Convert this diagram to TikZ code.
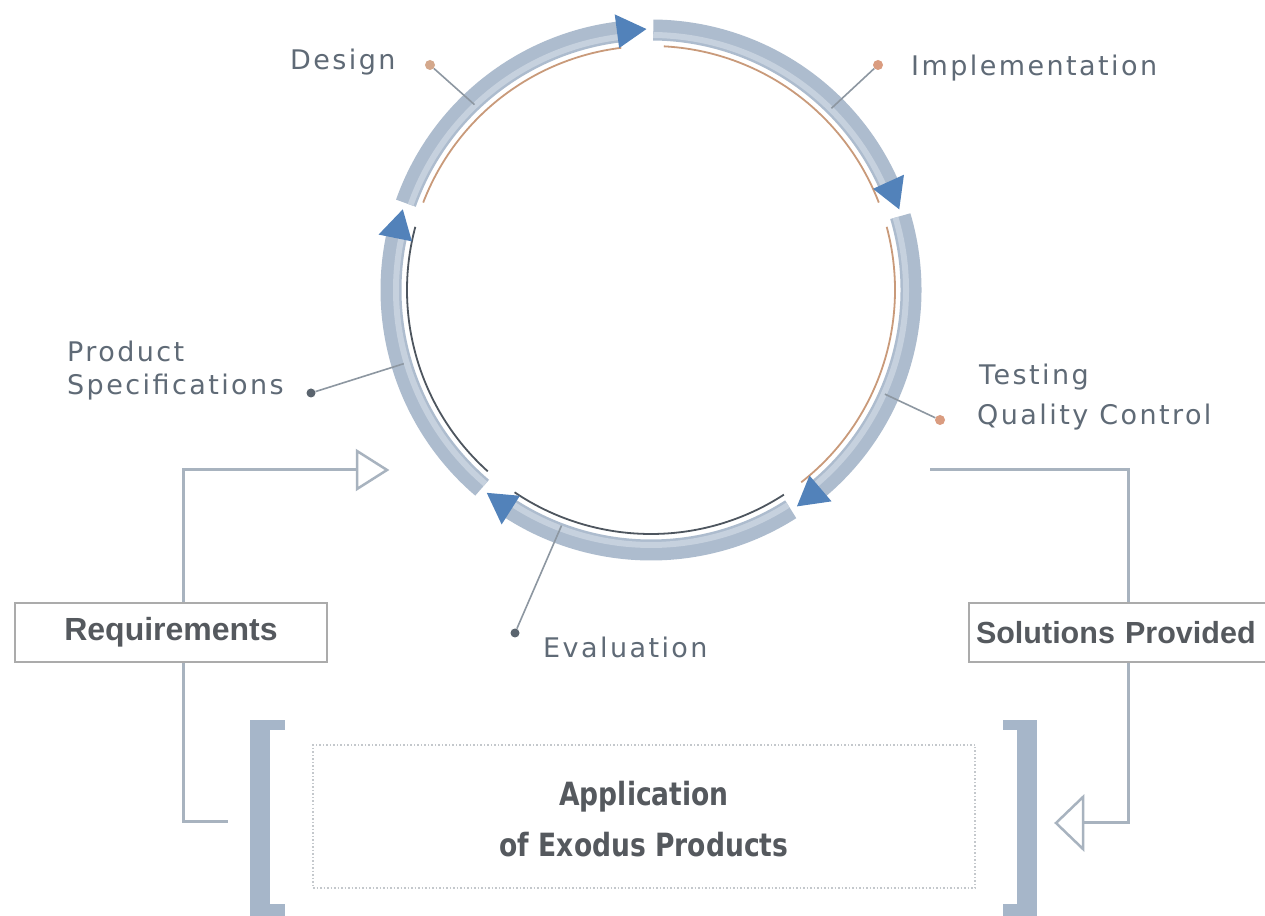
\documentclass[tikz,border=0pt]{standalone}
\usepackage{fontspec}
\setmainfont{DejaVu Sans}
\newfontfamily\lblfont[LetterSpace=9]{DejaVu Sans}
\newfontfamily\boxfont{Liberation Sans}
\usetikzlibrary{calc}
\definecolor{bandc}{HTML}{ADBCCE}
\definecolor{bandl}{HTML}{C6D1DE}
\definecolor{headc}{HTML}{5282BA}
\definecolor{orng}{HTML}{C99A7A}
\definecolor{darkl}{HTML}{4E565F}
\definecolor{txt}{HTML}{5F6A76}
\definecolor{fb}{HTML}{A8B3BF}
\definecolor{brk}{HTML}{A6B6C9}
\definecolor{dottan}{HTML}{D4A88C}
\definecolor{dotorg}{HTML}{DA9C80}
\definecolor{dotgrey}{HTML}{5A646E}
\definecolor{connc}{HTML}{8D97A1}
\definecolor{boxtxt}{HTML}{55595E}
\definecolor{boxline}{HTML}{ABABAB}
\definecolor{dotline}{HTML}{C4C8CC}
\tikzset{
  band/.style={draw=bandc, line width=21},
  bandhi/.style={draw=bandl, line width=6},
  thinarc/.style={line width=1.8},
  head/.style={fill=headc},
  lbl/.style={font=\lblfont\fontsize{27}{31}\selectfont, text=txt, inner sep=0pt, anchor=base west},
  dotn/.style={circle, inner sep=0pt, minimum size=10},
  conn/.style={draw=connc, line width=1.6},
  boxn/.style={draw=boxline, line width=2, minimum height=59, inner sep=0pt,
    font=\boxfont\bfseries\fontsize{32}{36}\selectfont, text=boxtxt},
  fbline/.style={draw=fb, line width=3},
  brkfill/.style={fill=brk},
  appt/.style={font=\bfseries\fontsize{32}{36}\selectfont, text=boxtxt, inner sep=0pt, anchor=base, transform shape},
}
\begin{document}
\begin{tikzpicture}[x=1pt,y=1pt]
\useasboundingbox (0,0) rectangle (1265,915);
\fill[white] (0,0) rectangle (1265,915);
\coordinate (C) at (651,625);

% thin inner arcs
\foreach \aa/\bb/\cc in {159/97/orng, 87/21/orng, 15/-52/orng, -57/-124/darkl, -132/-195/darkl}
  \draw[thinarc, draw=\cc] ($(C)+(\aa:244)$) arc[start angle=\aa, end angle=\bb, radius=244];

% band segments with arrow heads
\foreach \sa/\ta in {160.5/91, 89.5/18, 16.5/-56, -57.5/-129, -130.5/-198} {
  \draw[band] ($(C)+(\sa:260)$) arc[start angle=\sa, end angle=\ta+5, radius=260];
  \draw[bandhi] ($(C)+(\sa:255)$) arc[start angle=\sa, end angle=\ta+5, radius=255];
  \fill[head] ($(C)+(\ta:261)$) -- ($(C)+(\ta+6.5:244)$) -- ($(C)+(\ta+6.5:278)$) -- cycle;
}

% label connectors
\coordinate (dEnd) at ($(C)+(133.6:256)$);
\coordinate (iEnd) at ($(C)+(45.2:256)$);
\coordinate (tEnd) at ($(C)+(-24:256)$);
\coordinate (eEnd) at ($(C)+(-110.8:252)$);
\coordinate (pEnd) at ($(C)+(196.6:258)$);
\node[dotn, fill=dottan] (dDot) at (430,850) {};
\node[dotn, fill=dotorg] (iDot) at (878,850) {};
\node[dotn, fill=dotorg] (tDot) at (940,495) {};
\node[dotn, fill=dotgrey, minimum size=9] (eDot) at (515,282) {};
\node[dotn, fill=dotgrey, minimum size=9] (pDot) at (311,522) {};
\draw[conn] (dDot) -- (dEnd);
\draw[conn] (iDot) -- (iEnd);
\draw[conn] (tDot) -- (tEnd);
\draw[conn] (eDot) -- (eEnd);
\draw[conn] (pDot) -- (pEnd);

% labels
\node[lbl] (design) at (290,845) {Design};
\node[lbl] (impl) at (911,839) {Implementation};
\node[lbl] (prod1) at (67,553) {Product};
\node[lbl] (prod2) at (67,520) {Specifications};
\node[lbl] (test1) at (979,530) {Testing};
\node[lbl] (test2) at (977,490) {Quality Control};
\node[lbl] (eval) at (543,257) {Evaluation};

% boxes
\node[boxn, minimum width=312] (req) at (171,282.5) {Requirements};
\node[boxn, minimum width=322, anchor=west, text width=308, inner xsep=7pt, align=left,
  font=\boxfont\bfseries\fontsize{30.5}{36}\selectfont] (sol) at (968,282.5) {Solutions Provided};

% feedback lines
\coordinate (lx) at (183,0);
\coordinate (rx) at (1128,0);
\coordinate (lt) at (357,445);
\coordinate (lb) at (228,93);
\coordinate (rt) at (930,445);
\coordinate (rb) at (1083,92);
\draw[fbline] (req.north -| lx) |- (lt);
\draw[fbline] (req.south -| lx) |- (lb);
\draw[fbline] (rt) -| (sol.north -| rx);
\draw[fbline] (sol.south -| rx) |- (rb);
\draw[fbline, line width=2.5, fill=white, line join=miter] (lt) ++(0,19) -- ++(30,-19) -- ++(-30,-19) -- cycle;
\draw[fbline, line width=2.5, fill=white, line join=miter] (rb) ++(0,26) -- ++(-27,-26) -- ++(27,-26) -- cycle;

% brackets
\fill[brkfill] (250,-5) rectangle (270,195);
\fill[brkfill] (250,185) rectangle (285,195);
\fill[brkfill] (250,-5) rectangle (285,11);
\fill[brkfill] (1017,-5) rectangle (1037,195);
\fill[brkfill] (1003,185) rectangle (1037,195);
\fill[brkfill] (1003,-5) rectangle (1037,11);

% application box
\node[draw=dotline, dotted, line width=1.5, minimum width=662, minimum height=143, inner sep=0pt] (app) at (644,98.5) {};
\begin{scope}[shift={(644,109)}, xscale=0.83]
  \node[appt] (app1) at (0,0) {Application};
\end{scope}
\begin{scope}[shift={(644,59)}, xscale=0.83]
  \node[appt] (app2) at (0,0) {of Exodus Products};
\end{scope}
\end{tikzpicture}
\end{document}
